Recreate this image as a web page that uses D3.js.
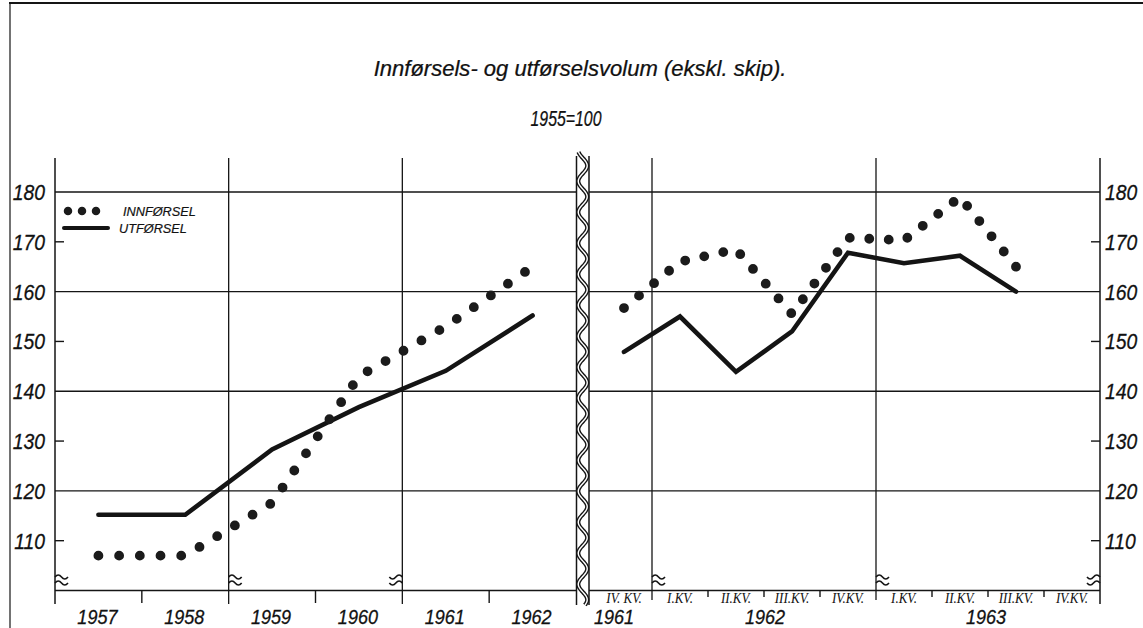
<!DOCTYPE html>
<html><head><meta charset="utf-8">
<script src="https://cdn.jsdelivr.net/npm/d3@7"></script>
<style>
html,body{margin:0;padding:0;background:#fff;}
svg{display:block;}
text{font-family:"Liberation Sans",Arial,sans-serif;font-style:italic;fill:#111;}
</style>
</head><body>
<svg id="c" width="1143" height="628"></svg>
<script>
// ---------- data ----------
const title = "Innførsels- og utførselsvolum (ekskl. skip).";
const subtitle = "1955=100";
const legendLabels = ["INNFØRSEL", "UTFØRSEL"];

const years = ["1957", "1958", "1959", "1960", "1961", "1962"];
const importYear = [107, 107, 117.6, 143, 153, 165];
const exportYear = [115.2, 115.2, 128.3, 136.8, 144.1, 155.2];

const quarters = ["IV-1961", "I-1962", "II-1962", "III-1962", "IV-1962", "I-1963", "II-1963", "III-1963", "IV-1963"];
const quarterLabels = ["IV. KV.", "I.KV.", "II.KV.", "III.KV.", "IV.KV.", "I.KV.", "II.KV.", "III.KV.", "IV.KV."];
const quarterYearLabels = ["1961", "1962", "1963"];
const importQuarter = [156.7, 166, 168.5, 155.5, 170.8, 170.3, 179, 165];
const exportQuarter = [147.9, 155.0, 143.9, 152.0, 167.8, 165.7, 167.2, 160.0];

const yTicks = [110, 120, 130, 140, 150, 160, 170, 180];
const yGrid = [120, 140, 160, 180];

// ---------- layout ----------
const svg = d3.select("#c");
const ink = "#151515";
const topY = 158, base = 590.5, tickBottom = 604;
const y = d3.scaleLinear().domain([100, 180]).range([base, 192]);
const xYear = d3.scaleBand().domain(years).range([55, 576]).padding(0);
const xQ = d3.scaleBand().domain(quarters).range([596, 1100]).padding(0);
const sepL = 576.5, sepR = 589;

function txt(g, x, yy, s, size, anchor, sx, fam) {
  return g.append("text")
    .attr("transform", `translate(${x},${yy}) scale(${sx || 1},1)`)
    .attr("text-anchor", anchor || "middle")
    .style("font-size", size + "px")
    .style("font-family", fam || null)
    .text(s);
}

// frame
svg.append("line").attr("x1", 9).attr("x2", 1143).attr("y1", 3).attr("y2", 3)
  .attr("stroke", ink).attr("stroke-width", 2);
svg.append("line").attr("x1", 10).attr("x2", 10).attr("y1", 3).attr("y2", 628)
  .attr("stroke", ink).attr("stroke-width", 1.2);

// titles
txt(svg, 580, 76, title, 22.5, "middle", 0.98).style("stroke", "#111").style("stroke-width", 0.25);
txt(svg, 566, 126, subtitle, 22, "middle", 0.72).style("stroke", "#111").style("stroke-width", 0.25);

const g = svg.append("g").attr("stroke", ink).attr("fill", "none");

// horizontal gridlines
yGrid.forEach(v => {
  g.append("line").attr("x1", xYear.range()[0]).attr("x2", sepL).attr("y1", y(v)).attr("y2", y(v)).attr("stroke-width", 1.4);
  g.append("line").attr("x1", sepR).attr("x2", xQ.range()[1]).attr("y1", y(v)).attr("y2", y(v)).attr("stroke-width", 1.4);
});
// baselines
g.append("line").attr("x1", xYear.range()[0]).attr("x2", sepL).attr("y1", base).attr("y2", base).attr("stroke-width", 1.6);
g.append("line").attr("x1", sepR).attr("x2", xQ.range()[1]).attr("y1", base).attr("y2", base).attr("stroke-width", 1.6);

// axes verticals
const x0 = xYear.range()[0], x1 = xQ.range()[1];
g.append("line").attr("x1", x0).attr("x2", x0).attr("y1", topY).attr("y2", tickBottom).attr("stroke-width", 1.5);
g.append("line").attr("x1", x1).attr("x2", x1).attr("y1", topY).attr("y2", tickBottom).attr("stroke-width", 1.5);

// odd ticks
yTicks.filter(v => !yGrid.includes(v)).forEach(v => {
  g.append("line").attr("x1", x0).attr("x2", x0 + 9).attr("y1", y(v)).attr("y2", y(v)).attr("stroke-width", 1.4);
  g.append("line").attr("x1", x1 - 9).attr("x2", x1).attr("y1", y(v)).attr("y2", y(v)).attr("stroke-width", 1.4);
});

// y labels
const labG = svg.append("g").style("stroke", "#111").style("stroke-width", 0.3);
yTicks.forEach(v => {
  txt(labG, 45, y(v) + 8, String(v), 22, "end", 0.88);
  txt(labG, 1105, y(v) + 8, String(v), 22, "start", 0.88);
});

// left year ticks & gridlines
const leftGridYears = ["1959", "1961"];
years.slice(1).forEach(yr => {
  const xx = xYear(yr);
  if (leftGridYears.includes(yr)) {
    g.append("line").attr("x1", xx).attr("x2", xx).attr("y1", topY).attr("y2", tickBottom).attr("stroke-width", 1.3);
  } else {
    g.append("line").attr("x1", xx).attr("x2", xx).attr("y1", base).attr("y2", tickBottom - 1).attr("stroke-width", 1.4);
  }
});
years.forEach(yr => {
  txt(labG, xYear(yr) + xYear.bandwidth() / 2 - 1, 623.5, yr, 20.5, "middle", 0.88);
});

// right quarter ticks & gridlines
const rightGridQ = ["I-1962", "I-1963"];
quarters.slice(1).forEach(q => {
  const xx = xQ(q);
  if (rightGridQ.includes(q)) {
    g.append("line").attr("x1", xx).attr("x2", xx).attr("y1", topY).attr("y2", 600).attr("stroke-width", 1.3);
  } else {
    g.append("line").attr("x1", xx).attr("x2", xx).attr("y1", base).attr("y2", 597).attr("stroke-width", 1.4);
  }
});
const qG = svg.append("g");
quarters.forEach((q, i) => {
  txt(qG, xQ(q) + xQ.bandwidth() / 2, 602.5, quarterLabels[i], 14, "middle", 0.93, "'Liberation Serif', serif");
});
// quarter year labels
const bw = xQ.bandwidth();
txt(labG, xQ("IV-1961") + bw / 2 - 10, 623.5, quarterYearLabels[0], 20.5, "middle", 0.88);
txt(labG, (xQ("I-1962") + xQ("IV-1962") + bw) / 2 + 1, 623.5, quarterYearLabels[1], 20.5, "middle", 0.88);
txt(labG, (xQ("I-1963") + xQ("IV-1963") + bw) / 2 - 2, 623.5, quarterYearLabels[2], 20.5, "middle", 0.88);

// break marks
function breakMark(xx, yy, dir) {
  const w = 13 * dir;
  [-3, 3].forEach(off => {
    g.append("path")
      .attr("d", `M${xx},${yy + off} q${w / 4},${-4} ${w / 2},0 t${w / 2},0`)
      .attr("stroke-width", 1.6);
  });
}
const by = 580;
breakMark(x0, by, 1);
breakMark(xYear("1959"), by, 1);
breakMark(xYear("1961"), by, -1);
breakMark(xQ("I-1962"), by, 1);
breakMark(xQ("I-1963"), by, 1);
breakMark(x1, by, -1);

// separator
g.append("line").attr("x1", sepL).attr("x2", sepL).attr("y1", topY - 2).attr("y2", tickBottom + 1).attr("stroke-width", 1.5);
g.append("line").attr("x1", sepR).attr("x2", sepR).attr("y1", topY - 2).attr("y2", tickBottom + 1).attr("stroke-width", 1.5);
const wavePts = d3.range(topY - 6, tickBottom + 2, 1).map(yy => [(sepL + sepR) / 2 + 4.5 * Math.sin((yy - topY) / 31 * 2 * Math.PI), yy]);
const waveLine = d3.line().curve(d3.curveBasis);
g.append("path").attr("d", waveLine(wavePts)).attr("stroke", ink).attr("stroke-width", 4.2);
g.append("path").attr("d", waveLine(wavePts)).attr("stroke", "#fff").attr("stroke-width", 1.4);

// ---------- series ----------
const lineY = d3.line().x((d, i) => xYear(years[i]) + xYear.bandwidth() / 2).y(d => y(d));
const lineQ = d3.line().x((d, i) => xQ(quarters[i]) + bw / 2).y(d => y(d));
const dotStyle = sel => sel.attr("stroke", "#1b1b1b").attr("stroke-width", 9.8)
  .attr("stroke-linecap", "round").attr("fill", "none");
const solidStyle = sel => sel.attr("stroke", "#141414").attr("stroke-width", 4.6)
  .attr("stroke-linejoin", "miter").attr("stroke-linecap", "round").attr("fill", "none");

svg.append("path").attr("d", lineY(exportYear)).call(solidStyle);
svg.append("path").attr("d", lineY(importYear)).call(dotStyle).attr("stroke-dasharray", "0 20.7");
svg.append("path").attr("d", lineQ(exportQuarter)).call(solidStyle);
svg.append("path").attr("d", lineQ(importQuarter)).call(dotStyle).attr("stroke-dasharray", "0 19.5");

// legend
const lg = svg.append("g");
lg.append("path").attr("d", d3.line()([[68, 211], [110, 211]])).call(dotStyle)
  .attr("stroke-width", 8.5).attr("stroke-dasharray", "0 14");
lg.append("path").attr("d", d3.line()([[64, 228], [108, 228]])).call(solidStyle).attr("stroke-width", 4);
txt(lg, 123, 216, legendLabels[0], 13, "start", 0.98).style("stroke", "#111").style("stroke-width", 0.2);
txt(lg, 119, 233, legendLabels[1], 13, "start", 0.98).style("stroke", "#111").style("stroke-width", 0.2);
</script>
</body></html>
